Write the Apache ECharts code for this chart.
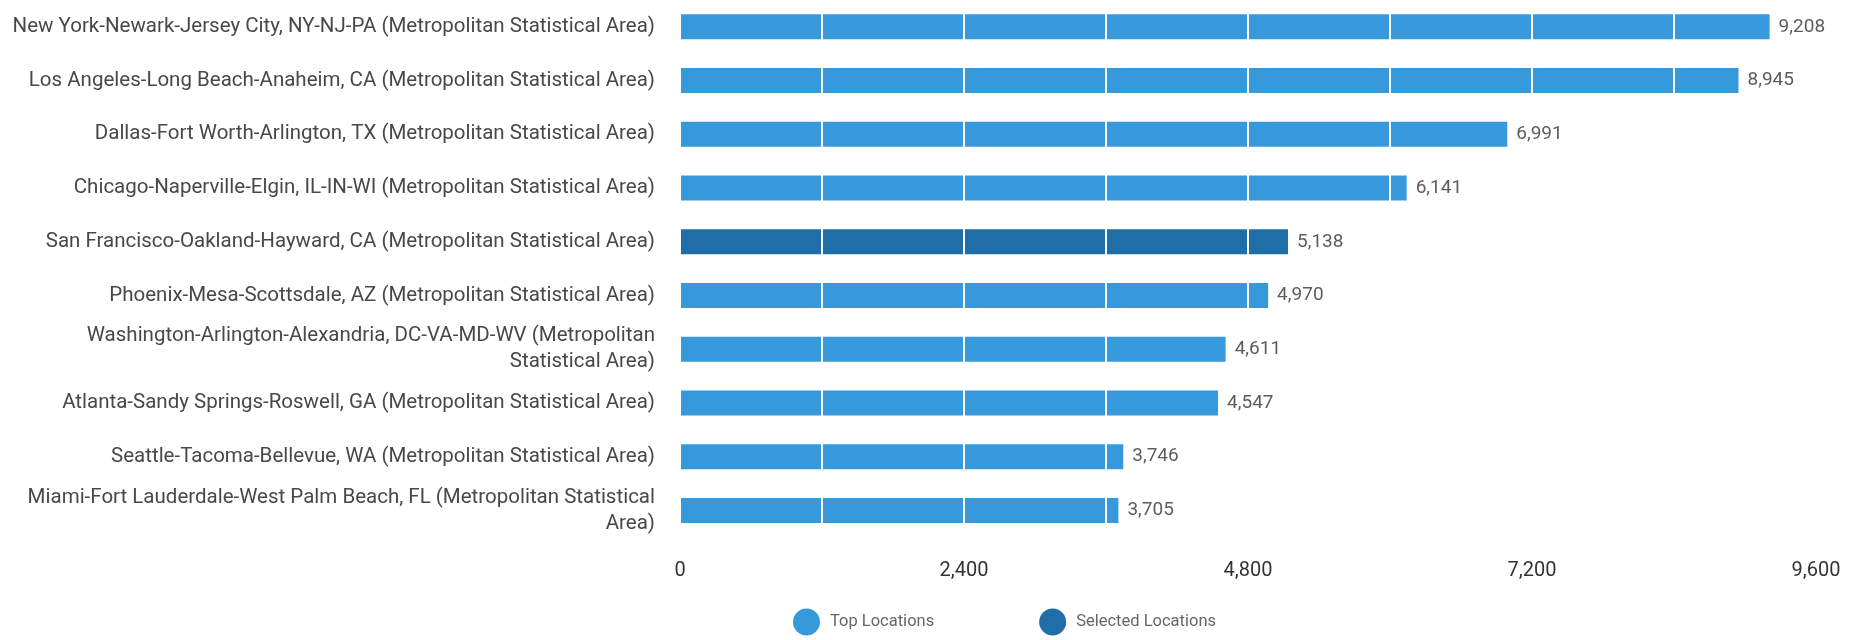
<!DOCTYPE html>
<html><head><meta charset="utf-8">
<script src="https://cdn.jsdelivr.net/npm/echarts@6/dist/echarts.min.js"></script>
<style>html,body{margin:0;padding:0;background:#fff}#c{width:1857px;height:640px}</style>
</head><body><div id="c"></div>
<script>
const categories = [
  "New York-Newark-Jersey City, NY-NJ-PA (Metropolitan Statistical Area)",
  "Los Angeles-Long Beach-Anaheim, CA (Metropolitan Statistical Area)",
  "Dallas-Fort Worth-Arlington, TX (Metropolitan Statistical Area)",
  "Chicago-Naperville-Elgin, IL-IN-WI (Metropolitan Statistical Area)",
  "San Francisco-Oakland-Hayward, CA (Metropolitan Statistical Area)",
  "Phoenix-Mesa-Scottsdale, AZ (Metropolitan Statistical Area)",
  "Washington-Arlington-Alexandria, DC-VA-MD-WV (Metropolitan Statistical Area)",
  "Atlanta-Sandy Springs-Roswell, GA (Metropolitan Statistical Area)",
  "Seattle-Tacoma-Bellevue, WA (Metropolitan Statistical Area)",
  "Miami-Fort Lauderdale-West Palm Beach, FL (Metropolitan Statistical Area)"
];
const topLocations = [9208, 8945, 6991, 6141, null, 4970, 4611, 4547, 3746, 3705];
const selectedLocations = [null, null, null, null, 5138, null, null, null, null, null];
const seriesNames = ["Top Locations", "Selected Locations"];
const xTicks = [0, 2400, 4800, 7200, 9600];
const lineBreaks = {
  "Washington-Arlington-Alexandria, DC-VA-MD-WV (Metropolitan Statistical Area)": "Washington-Arlington-Alexandria, DC-VA-MD-WV (Metropolitan\nStatistical Area)",
  "Miami-Fort Lauderdale-West Palm Beach, FL (Metropolitan Statistical Area)": "Miami-Fort Lauderdale-West Palm Beach, FL (Metropolitan Statistical\nArea)"
};

const fmt = v => Number(v).toLocaleString('en-US');
const allValues = topLocations.map((v, i) => v != null ? v : selectedLocations[i]);
const chart = echarts.init(document.getElementById('c'));
chart.setOption({
  animation: false,
  textStyle: { fontFamily: 'Roboto' },
  grid: { left: 680, right: 41, top: -6.7, bottom: 102.7, containLabel: false },
  legend: {
    top: 603.5, left: 788,
    icon: 'circle', itemWidth: 27, itemHeight: 27, itemGap: 105,
    textStyle: { color: '#666', fontSize: 16.5, fontFamily: 'Roboto', padding: [12, 0, 0, 5] },
    data: seriesNames
  },
  xAxis: {
    type: 'value', min: 0, max: 9600, interval: 1200, z: 10,
    axisLine: { show: false }, axisTick: { show: false },
    splitLine: { show: true, lineStyle: { color: '#ffffff', width: 2 } },
    axisLabel: {
      color: '#333', fontSize: 20, fontFamily: 'Roboto', margin: 24,
      formatter: v => xTicks.includes(v) ? fmt(v) : ''
    }
  },
  yAxis: {
    type: 'category', inverse: true, data: categories,
    axisLine: { show: false }, axisTick: { show: false },
    axisLabel: {
      color: '#484848', fontSize: 20.5, fontFamily: 'Roboto', margin: 25, lineHeight: 26,
      formatter: v => lineBreaks[v] || v
    }
  },
  series: [
    { name: seriesNames[0], type: 'bar', stack: 'a', barWidth: 25, data: topLocations,
      itemStyle: { color: '#3699dc' }, z: 2 },
    { name: seriesNames[1], type: 'bar', stack: 'a', barWidth: 25, data: selectedLocations,
      itemStyle: { color: '#1f6ea7' }, z: 2 },
    { name: 'values', type: 'scatter', symbolSize: 0, data: allValues, z: 20, silent: true,
      label: { show: true, position: 'right', distance: 9, color: '#333',
        fontFamily: 'Roboto', fontSize: 19, formatter: p => fmt(p.value) } }
  ]
});
</script></body></html>
